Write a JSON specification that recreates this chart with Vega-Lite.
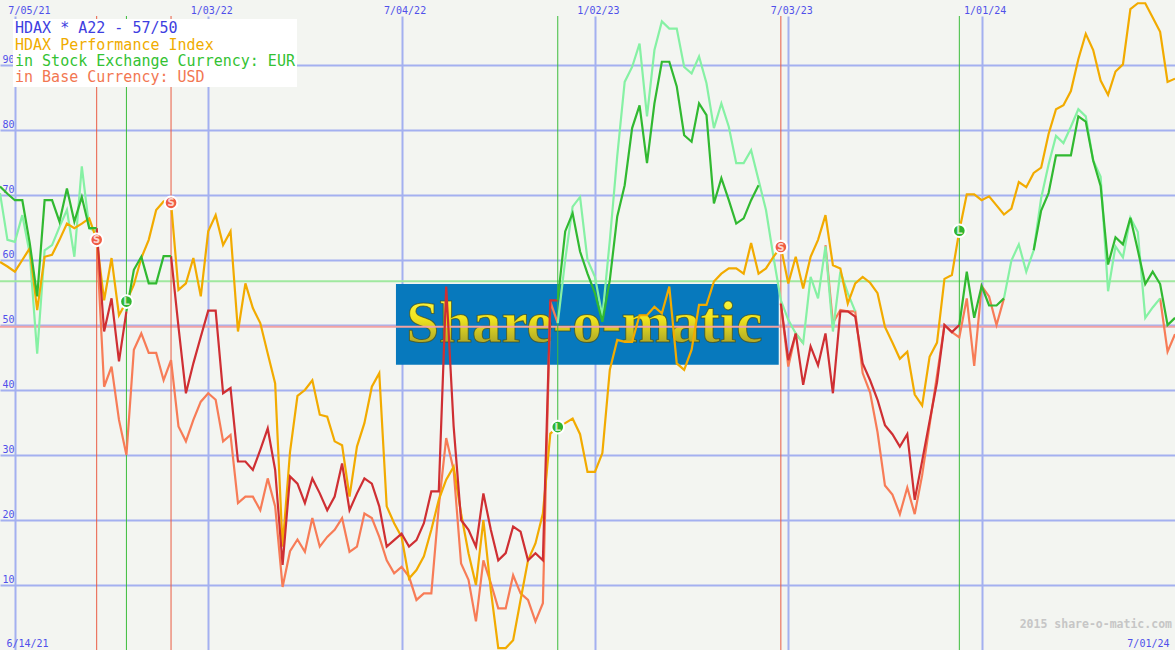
{
  "$schema": "https://vega.github.io/schema/vega-lite/v6.json",
  "width": 1175,
  "height": 634,
  "autosize": {"type": "none"},
  "padding": {"top": 16, "left": 0, "right": 0, "bottom": 0},
  "background": "#f3f5f1",
  "config": {"view": {"stroke": null}},
  "datasets": {
    "weekly": [
      {"d":"2021-06-21","o":59.7,"dg":71.3,"lg":70.3},
      {"d":"2021-06-28","o":59.0,"dg":70.2,"lg":63.1},
      {"d":"2021-07-05","o":58.2,"dg":69.2,"lg":62.8},
      {"d":"2021-07-12","o":60.0,"dg":69.2,"lg":66.9},
      {"d":"2021-07-19","o":61.8,"dg":62.6,"lg":61.0},
      {"d":"2021-07-26","o":52.3,"dg":54.4,"lg":45.6},
      {"d":"2021-08-02","o":60.5,"dg":69.2,"lg":61.5},
      {"d":"2021-08-09","o":60.8,"dg":69.2,"lg":62.3},
      {"d":"2021-08-16","o":63.1,"dg":65.9,"lg":65.1},
      {"d":"2021-08-23","o":65.6,"dg":71.0,"lg":67.7},
      {"d":"2021-08-30","o":64.9,"dg":65.9,"lg":60.5},
      {"d":"2021-09-06","o":65.6,"dg":69.7,"lg":74.4},
      {"d":"2021-09-13","o":66.4,"dg":64.9,"lg":64.9},
      {"d":"2021-09-20","o":63.1,"dg":64.9,"lg":64.4,"dr":64.9,"lr":63.0},
      {"d":"2021-09-27","o":53.8,"dr":49.0,"lr":40.5},
      {"d":"2021-10-04","o":60.3,"dr":54.1,"lr":43.6},
      {"d":"2021-10-11","o":51.5,"dr":44.4,"lr":35.4},
      {"d":"2021-10-18","o":53.6,"dg":52.1,"dr":52.1,"lr":30.0},
      {"d":"2021-10-25","o":56.2,"dg":58.5,"lr":46.2},
      {"d":"2021-11-01","o":60.3,"dg":60.5,"lr":48.7},
      {"d":"2021-11-08","o":63.1,"dg":56.4,"lr":45.7},
      {"d":"2021-11-15","o":67.7,"dg":56.4,"lr":45.7},
      {"d":"2021-11-22","o":69.0,"dg":60.6,"lr":41.5},
      {"d":"2021-11-29","o":68.8,"dg":60.6,"dr":60.6,"lr":44.6},
      {"d":"2021-12-06","o":55.4,"dr":49.7,"lr":34.4},
      {"d":"2021-12-13","o":56.4,"dr":39.5,"lr":32.1},
      {"d":"2021-12-20","o":60.3,"dr":44.1,"lr":35.4},
      {"d":"2021-12-27","o":54.4,"dr":48.2,"lr":38.2},
      {"d":"2022-01-03","o":64.4,"dr":52.2,"lr":39.5},
      {"d":"2022-01-10","o":66.9,"dr":52.2,"lr":38.5},
      {"d":"2022-01-17","o":62.3,"dr":39.5,"lr":32.1},
      {"d":"2022-01-24","o":64.4,"dr":40.3,"lr":33.1},
      {"d":"2022-01-31","o":49.0,"dr":29.0,"lr":22.6},
      {"d":"2022-02-07","o":56.4,"dr":29.0,"lr":23.6},
      {"d":"2022-02-14","o":52.6,"dr":27.7,"lr":23.6},
      {"d":"2022-02-21","o":50.3,"dr":30.8,"lr":21.5},
      {"d":"2022-02-28","o":45.6,"dr":34.1,"lr":26.4},
      {"d":"2022-03-07","o":41.0,"dr":27.7,"lr":22.1},
      {"d":"2022-03-14","o":15.9,"dr":13.1,"lr":9.7},
      {"d":"2022-03-21","o":30.5,"dr":26.7,"lr":15.2},
      {"d":"2022-03-28","o":39.1,"dr":25.6,"lr":17.0},
      {"d":"2022-04-04","o":40.0,"dr":22.6,"lr":15.1},
      {"d":"2022-04-11","o":41.5,"dr":26.4,"lr":20.3},
      {"d":"2022-04-18","o":36.2,"dr":24.1,"lr":15.9},
      {"d":"2022-04-25","o":35.9,"dr":21.5,"lr":17.4},
      {"d":"2022-05-02","o":32.1,"dr":23.6,"lr":18.5},
      {"d":"2022-05-09","o":31.5,"dr":28.7,"lr":20.3},
      {"d":"2022-05-16","o":23.6,"dr":21.5,"lr":15.1},
      {"d":"2022-05-23","o":31.3,"dr":24.1,"lr":15.9},
      {"d":"2022-05-30","o":34.9,"dr":26.4,"lr":21.0},
      {"d":"2022-06-06","o":40.5,"dr":25.6,"lr":20.3},
      {"d":"2022-06-13","o":42.6,"dr":22.1,"lr":17.4},
      {"d":"2022-06-20","o":22.1,"dr":15.9,"lr":13.8},
      {"d":"2022-06-27","o":19.5,"dr":16.9,"lr":11.8},
      {"d":"2022-07-04","o":17.4,"dr":17.9,"lr":12.8},
      {"d":"2022-07-11","o":11.0,"dr":15.9,"lr":11.3},
      {"d":"2022-07-18","o":12.3,"dr":16.9,"lr":7.7},
      {"d":"2022-07-25","o":14.4,"dr":19.5,"lr":8.7},
      {"d":"2022-08-01","o":18.5,"dr":24.4,"lr":8.7},
      {"d":"2022-08-08","o":23.1,"dr":24.4,"lr":22.1},
      {"d":"2022-08-15","o":26.2,"dr":55.9,"lr":32.6},
      {"d":"2022-08-22","o":28.2,"dr":34.4,"lr":27.7},
      {"d":"2022-08-29","o":21.0,"dr":20.0,"lr":13.3},
      {"d":"2022-09-05","o":14.9,"dr":18.5,"lr":10.8},
      {"d":"2022-09-12","o":10.0,"dr":15.9,"lr":4.4},
      {"d":"2022-09-19","o":20.0,"dr":24.1,"lr":13.8},
      {"d":"2022-09-26","o":9.2,"dr":18.5,"lr":10.3},
      {"d":"2022-10-03","o":0.3,"dr":13.8,"lr":6.4},
      {"d":"2022-10-10","o":0.3,"dr":14.9,"lr":6.4},
      {"d":"2022-10-17","o":1.5,"dr":19.0,"lr":11.5},
      {"d":"2022-10-24","o":7.7,"dr":18.2,"lr":8.7},
      {"d":"2022-10-31","o":13.8,"dr":13.8,"lr":7.7},
      {"d":"2022-11-07","o":16.4,"dr":14.9,"lr":4.4},
      {"d":"2022-11-14","o":21.0,"dr":13.8,"lr":7.2},
      {"d":"2022-11-21","o":33.3,"dr":53.8,"lr":53.6},
      {"d":"2022-11-28","o":34.3,"dg":53.8,"lg":50.3,"dr":53.8,"lr":50.3},
      {"d":"2022-12-05","o":34.9,"dg":64.4,"lg":60.0},
      {"d":"2022-12-12","o":35.6,"dg":67.2,"lg":68.2},
      {"d":"2022-12-19","o":33.2,"dg":61.3,"lg":69.7},
      {"d":"2022-12-26","o":27.4,"dg":57.9,"lg":60.0},
      {"d":"2023-01-02","o":27.4,"dg":54.9,"lg":57.4},
      {"d":"2023-01-09","o":30.3,"dg":50.5,"lg":51.3},
      {"d":"2023-01-16","o":43.1,"dg":56.9,"lg":63.0},
      {"d":"2023-01-23","o":47.7,"dg":66.7,"lg":76.0},
      {"d":"2023-01-30","o":47.4,"dg":71.5,"lg":87.4},
      {"d":"2023-02-06","o":47.4,"dg":80.3,"lg":89.7},
      {"d":"2023-02-13","o":51.5,"dg":83.8,"lg":93.3},
      {"d":"2023-02-20","o":51.5,"dg":74.9,"lg":82.1},
      {"d":"2023-02-27","o":52.8,"dg":84.1,"lg":92.3},
      {"d":"2023-03-06","o":51.8,"dg":90.5,"lg":96.7},
      {"d":"2023-03-13","o":55.9,"dg":90.5,"lg":95.6},
      {"d":"2023-03-20","o":44.1,"dg":86.7,"lg":95.6},
      {"d":"2023-03-27","o":43.1,"dg":79.2,"lg":89.7},
      {"d":"2023-04-03","o":46.2,"dg":78.2,"lg":88.7},
      {"d":"2023-04-10","o":53.1,"dg":84.1,"lg":91.3},
      {"d":"2023-04-17","o":53.1,"dg":82.3,"lg":87.2},
      {"d":"2023-04-24","o":56.7,"dg":68.7,"lg":80.3},
      {"d":"2023-05-01","o":57.9,"dg":72.6,"lg":84.1},
      {"d":"2023-05-08","o":58.7,"dg":69.2,"lg":80.5},
      {"d":"2023-05-15","o":58.7,"dg":65.6,"lg":74.9},
      {"d":"2023-05-22","o":57.9,"dg":66.4,"lg":74.9},
      {"d":"2023-05-29","o":62.6,"dg":69.2,"lg":76.9},
      {"d":"2023-06-05","o":57.9,"dg":71.5,"lg":72.3},
      {"d":"2023-06-12","o":58.7,"lg":67.7},
      {"d":"2023-06-19","o":60.5,"lg":60.5},
      {"d":"2023-06-26","o":62.0,"lg":53.8,"dr":53.3,"lr":53.3},
      {"d":"2023-07-03","o":56.4,"lg":50.8,"dr":44.6,"lr":43.6},
      {"d":"2023-07-10","o":60.5,"lg":48.7,"dr":48.7,"lr":48.7},
      {"d":"2023-07-17","o":55.6,"lg":47.2,"dr":40.8,"lr":47.2},
      {"d":"2023-07-24","o":60.5,"lg":57.4,"dr":46.7},
      {"d":"2023-07-31","o":63.1,"lg":54.1,"dr":43.8},
      {"d":"2023-08-07","o":66.9,"lg":62.1,"dr":48.7,"lr":62.3},
      {"d":"2023-08-14","o":59.2,"lg":49.0,"dr":39.5,"lr":50.3},
      {"d":"2023-08-21","o":58.7,"lg":58.2,"dr":52.1,"lr":52.3},
      {"d":"2023-08-28","o":53.3,"lg":54.9,"dr":52.1,"lr":52.1},
      {"d":"2023-09-04","o":56.4,"lg":52.1,"dr":51.3,"lr":52.1},
      {"d":"2023-09-11","o":57.4,"dr":44.1,"lr":42.6},
      {"d":"2023-09-18","o":56.5,"dr":41.5,"lr":39.6},
      {"d":"2023-09-25","o":54.9,"dr":38.5,"lr":33.5},
      {"d":"2023-10-02","o":49.7,"dr":34.6,"lr":25.3},
      {"d":"2023-10-09","o":47.3,"dr":33.2,"lr":23.9},
      {"d":"2023-10-16","o":44.8,"dr":31.3,"lr":20.9},
      {"d":"2023-10-23","o":45.9,"dr":33.2,"lr":25.0},
      {"d":"2023-10-30","o":39.3,"dr":23.1,"lr":20.9},
      {"d":"2023-11-06","o":37.6,"dr":29.1,"lr":26.9},
      {"d":"2023-11-13","o":45.1,"dr":35.2,"lr":34.6},
      {"d":"2023-11-20","o":47.3,"dr":41.2,"lr":42.3},
      {"d":"2023-11-27","o":57.1,"dr":50.0,"lr":50.0},
      {"d":"2023-12-04","o":57.7,"dr":48.9,"lr":48.9},
      {"d":"2023-12-11","o":64.5,"dg":50.0,"dr":50.0,"lr":48.1},
      {"d":"2023-12-18","o":70.1,"dg":58.2,"lr":54.1},
      {"d":"2023-12-25","o":70.1,"dg":51.1,"lr":43.7},
      {"d":"2024-01-01","o":69.2,"dg":56.0,"lr":56.0},
      {"d":"2024-01-08","o":69.8,"dg":53.0,"lr":54.4},
      {"d":"2024-01-15","o":68.4,"dg":53.0,"lr":50.0},
      {"d":"2024-01-22","o":67.0,"dg":54.1,"lg":54.1,"lr":54.1},
      {"d":"2024-01-29","o":67.9,"lg":59.9},
      {"d":"2024-02-05","o":72.0,"lg":62.4},
      {"d":"2024-02-12","o":71.2,"lg":58.2},
      {"d":"2024-02-19","o":73.4,"dg":61.5,"lg":61.5},
      {"d":"2024-02-26","o":74.2,"dg":67.6,"lg":69.5},
      {"d":"2024-03-04","o":79.4,"dg":70.3,"lg":74.7},
      {"d":"2024-03-11","o":83.2,"dg":76.1,"lg":79.1},
      {"d":"2024-03-18","o":83.8,"dg":76.1,"lg":78.0},
      {"d":"2024-03-25","o":86.0,"dg":76.1,"lg":80.5},
      {"d":"2024-04-01","o":90.9,"dg":82.1,"lg":83.2},
      {"d":"2024-04-08","o":94.8,"dg":81.3,"lg":82.1},
      {"d":"2024-04-15","o":92.3,"dg":75.3,"lg":75.3},
      {"d":"2024-04-22","o":87.6,"dg":71.4,"lg":72.8},
      {"d":"2024-04-29","o":85.4,"dg":59.3,"lg":55.2},
      {"d":"2024-05-06","o":89.0,"dg":63.5,"lg":62.1},
      {"d":"2024-05-13","o":90.1,"dg":62.4,"lg":60.4},
      {"d":"2024-05-20","o":98.6,"dg":66.5,"lg":66.5},
      {"d":"2024-05-27","o":99.5,"dg":61.5,"lg":64.3},
      {"d":"2024-06-03","o":99.5,"dg":56.3,"lg":51.1},
      {"d":"2024-06-10","o":97.3,"dg":58.2,"lg":52.7},
      {"d":"2024-06-17","o":95.1,"dg":56.3,"lg":54.1,"lr":54.1},
      {"d":"2024-06-24","o":87.4,"dg":50.0,"lr":45.9},
      {"d":"2024-07-01","o":87.9,"dg":51.1,"lr":48.6}
    ],
    "signals": [
      {"d":"2021-09-20","sig":"S","v":63.1},
      {"d":"2021-10-18","sig":"L","v":53.6},
      {"d":"2021-11-29","sig":"S","v":68.8},
      {"d":"2022-11-28","sig":"L","v":34.3},
      {"d":"2023-06-26","sig":"S","v":62.0},
      {"d":"2023-12-11","sig":"L","v":64.5}
    ]
  },
  "resolve": {"axis": {"x": "independent", "y": "independent"}},
  "layer": [
    {
      "data": {"values": [{}]},
      "mark": {"type": "rect", "color": "#0779bd"},
      "encoding": {
        "x": {"datum": {"year": 2022, "month": 6, "date": 28, "hours": 17, "utc": true}, "type": "temporal", "scale": {"type": "utc"}, "axis": null},
        "x2": {"datum": {"year": 2023, "month": 6, "date": 24, "utc": true}},
        "y": {"datum": 56.3, "type": "quantitative", "axis": null},
        "y2": {"datum": 43.9}
      }
    },
    {
      "data": {"values": [{}]},
      "mark": {"type": "text", "text": "Share-o-matic", "font": "Liberation Serif", "fontSize": 59, "fontWeight": "bold", "align": "center", "baseline": "alphabetic", "stroke": "#3d4a1e", "strokeWidth": 1, "strokeOpacity": 0.7,
        "fill": {"gradient": "linear", "x1": 0, "y1": 0, "x2": 0, "y2": 1, "stops": [{"offset": 0, "color": "#ffff55"}, {"offset": 0.45, "color": "#f0e41e"}, {"offset": 1, "color": "#8c8a2c"}]}},
      "encoding": {
        "x": {"datum": {"year": 2022, "month": 12, "date": 23, "utc": true}, "type": "temporal", "axis": null},
        "y": {"datum": 47.4, "type": "quantitative", "axis": null}
      }
    },
    {
      "data": {"values": [{}]},
      "mark": {"type": "rule", "color": "#9fe89f", "strokeWidth": 2},
      "encoding": {"y": {"datum": 56.75, "type": "quantitative", "axis": null}}
    },
    {
      "data": {"values": [{}]},
      "mark": {"type": "rule", "color": "#f2a2a2", "strokeWidth": 2},
      "encoding": {"y": {"datum": 49.75, "type": "quantitative", "axis": null}}
    },
    {
      "data": {"name": "signals"},
      "mark": {"type": "rule", "strokeWidth": 1},
      "encoding": {
        "x": {"field": "d", "type": "temporal",
          "axis": {"orient": "bottom", "title": null, "values": [{"year": 2021, "month": 6, "date": 21, "utc": true}, {"year": 2024, "month": 7, "date": 1, "utc": true}],
            "labelExpr": "datum.value < 1640995200000 ? '6/14/21' : '7/01/24'", "grid": false, "ticks": false, "domain": false,
            "labelFlush": true, "labelFlushOffset": -6, "labelPadding": -4, "labelBaseline": "alphabetic",
            "labelFont": "DejaVu Sans Mono", "labelFontSize": 10, "labelColor": "#5050ea"}},
        "stroke": {"field": "sig", "type": "nominal", "scale": {"domain": ["S", "L"], "range": ["#ea5c44", "#3cbc3c"]}, "legend": null}
      }
    },
    {
      "data": {"name": "weekly"},
      "transform": [{"fold": ["lr", "lg", "o", "dr", "dg"], "as": ["key", "value"]}],
      "mark": {"type": "line", "strokeWidth": 2.2, "invalid": "break-paths-filter-domains"},
      "encoding": {
        "x": {"field": "d", "type": "temporal",
          "scale": {"type": "utc", "domain": [{"year": 2021, "month": 6, "date": 21, "utc": true}, {"year": 2024, "month": 7, "date": 1, "utc": true}]},
          "axis": {"orient": "top", "title": null,
            "values": [{"year": 2021, "month": 7, "date": 5, "utc": true}, {"year": 2022, "month": 1, "date": 3, "utc": true}, {"year": 2022, "month": 7, "date": 4, "utc": true}, {"year": 2023, "month": 1, "date": 2, "utc": true}, {"year": 2023, "month": 7, "date": 3, "utc": true}, {"year": 2024, "month": 1, "date": 1, "utc": true}],
            "labelExpr": "utcFormat(datum.value, '%-m/%d/%y')",
            "grid": true, "gridColor": "#a3b0f0", "gridWidth": 2, "ticks": false, "domain": false,
            "labelFont": "DejaVu Sans Mono", "labelFontSize": 10, "labelColor": "#5050ea",
            "labelPadding": 3, "labelBaseline": "alphabetic", "labelOffset": 3, "labelFlush": 20, "labelFlushOffset": 10}},
        "y": {"field": "value", "type": "quantitative",
          "scale": {"domain": [0, 97.54], "nice": false, "zero": false},
          "axis": {"orient": "left", "title": null, "values": [10, 20, 30, 40, 50, 60, 70, 80, 90],
            "grid": true, "gridColor": "#a3b0f0", "gridWidth": 2, "ticks": false, "domain": false,
            "labelAlign": "left", "labelPadding": -2, "labelBaseline": "alphabetic", "labelOffset": -3,
            "labelFont": "DejaVu Sans Mono", "labelFontSize": 10, "labelColor": "#5050ea"}},
        "color": {"field": "key", "type": "nominal",
          "scale": {"domain": ["o", "dg", "lr", "lg", "dr"], "range": ["#f2ab00", "#31b931", "#f77c57", "#86f1a4", "#cf2f33"]},
          "legend": {"values": ["o", "dg", "lr"], "title": "HDAX * A22 - 57/50", "orient": "none", "legendX": 13, "legendY": 3,
            "labelExpr": "datum.value == 'o' ? 'HDAX Performance Index' : datum.value == 'dg' ? 'in Stock Exchange Currency: EUR' : 'in Base Currency: USD'",
            "labelColor": {"expr": "datum.value == 'o' ? '#f0ac00' : datum.value == 'dg' ? '#33c233' : '#f27752'"},
            "labelFont": "DejaVu Sans Mono", "labelFontSize": 15, "labelLimit": 500, "labelOffset": -15,
            "titleFont": "DejaVu Sans Mono", "titleFontSize": 15, "titleFontWeight": "normal", "titleColor": "#3e3ee0", "titleLimit": 500, "titlePadding": 1,
            "symbolSize": 0, "symbolStrokeWidth": 0, "symbolOpacity": 0,
            "fillColor": "#ffffff", "padding": 2, "rowPadding": 0, "zindex": 1}}
      }
    },
    {
      "data": {"name": "signals"},
      "mark": {"type": "point", "shape": "circle", "filled": true, "size": 160, "stroke": "#ffffff", "strokeWidth": 2, "opacity": 1},
      "encoding": {
        "x": {"field": "d", "type": "temporal", "axis": null},
        "y": {"field": "v", "type": "quantitative", "axis": null},
        "fill": {"field": "sig", "type": "nominal", "scale": {"domain": ["S", "L"], "range": ["#f05c44", "#2fb52f"]}, "legend": null}
      }
    },
    {
      "data": {"name": "signals"},
      "mark": {"type": "text", "fontSize": 10, "fontWeight": "bold", "font": "DejaVu Sans", "align": "center", "baseline": "middle", "fill": "#ffffff", "opacity": 0.75, "dy": 0.5},
      "encoding": {
        "x": {"field": "d", "type": "temporal", "axis": null},
        "y": {"field": "v", "type": "quantitative", "axis": null},
        "text": {"field": "sig", "type": "nominal"}
      }
    },
    {
      "data": {"values": [{}]},
      "mark": {"type": "text", "text": "2015 share-o-matic.com", "font": "DejaVu Sans Mono", "fontSize": 11.5, "fontWeight": "bold", "fill": "#c6c6c6", "align": "right", "baseline": "alphabetic", "dx": -3},
      "encoding": {
        "x": {"datum": {"year": 2024, "month": 7, "date": 1, "utc": true}, "type": "temporal", "axis": null},
        "y": {"datum": 3.38, "type": "quantitative", "axis": null}
      }
    }
  ]
}
